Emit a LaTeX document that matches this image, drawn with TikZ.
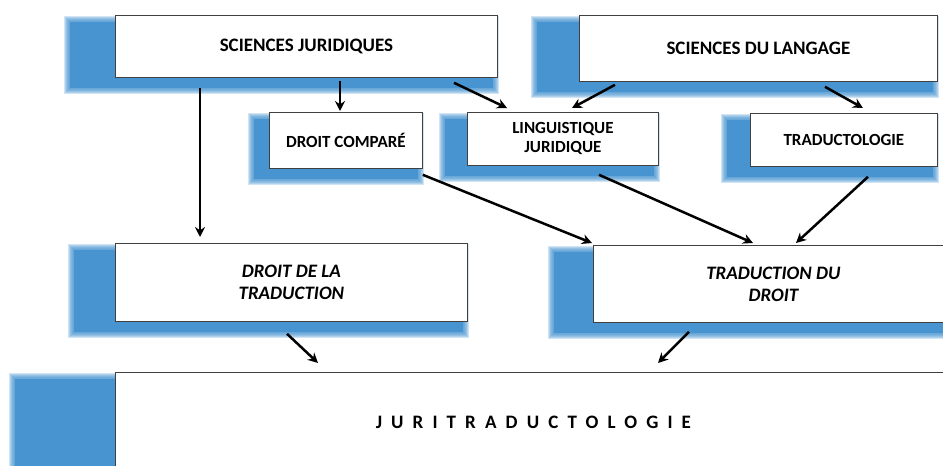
\documentclass[tikz,border=0pt]{standalone}
\usepackage{fontspec}
\setmainfont{Carlito}
\newfontfamily\espace[LetterSpace = 48]{Carlito}
\usetikzlibrary{arrows.meta, backgrounds, calc}

\definecolor{ombrebleu}{RGB}{72,148,208}
\definecolor{bord}{RGB}{64,64,64}

\tikzset{
  bloc/.style = {draw = bord, line width = 0.8pt, fill = white, rectangle,
    anchor = north west, inner sep = 0pt, align = center,
    font = \bfseries\fontsize{19}{23}\selectfont},
  moyen/.style = {font = \bfseries\fontsize{17}{19}\selectfont},
  penche/.style = {font = \bfseries\itshape\fontsize{19}{22}\selectfont},
  fleche/.style = {line width = 2.5pt, -{Stealth[length = 10pt, width = 10pt]}}
}

\begin{document}
\begin{tikzpicture}[x = 1pt, y = -1pt]
  \useasboundingbox (0, 0) rectangle (943, 466);

  \node[bloc, minimum width = 382pt, minimum height = 62pt] (sj) at (115, 15) {SCIENCES JURIDIQUES};
  \node[bloc, minimum width = 358pt, minimum height = 66pt] (sl) at (579, 15) {SCIENCES DU LANGAGE};
  \node[bloc, moyen, minimum width = 153pt, minimum height = 56pt] (dc) at (269, 112) {DROIT COMPARÉ};
  \node[bloc, moyen, minimum width = 191pt, minimum height = 53pt] (lj) at (467, 112) {LINGUISTIQUE\\JURIDIQUE};
  \node[bloc, moyen, minimum width = 187pt, minimum height = 53pt] (tr) at (750, 113) {TRADUCTOLOGIE};
  \node[bloc, penche, minimum width = 352pt, minimum height = 78pt] (dt) at (115, 243) {DROIT DE LA\\TRADUCTION};
  \node[bloc, penche, minimum width = 360pt, minimum height = 77pt] (td) at (593, 245) {TRADUCTION DU\\DROIT};
  \node[bloc, minimum width = 836pt, minimum height = 100pt] (jt) at (115, 372) {\espace JURITRADUCTOLOGIE};

  % ombres floues
  \begin{scope}[on background layer]
    \foreach \n/\d in {sj/47, sl/44, dc/17, lj/24, tr/25, dt/43, td/41, jt/102}{
      \foreach \g in {4, 3, ..., -1}{
        \fill[ombrebleu, opacity = 0.25] ($(\n.north west) + (-\d - \g, 5 - \g)$)
          rectangle ($(\n.south east) + (-3 + \g, 12 + \g)$);
      }
      \fill[ombrebleu] ($(\n.north west) + (-\d + 2, 7)$) rectangle ($(\n.south east) + (-5, 10)$);
    }
  \end{scope}

  \draw[fleche] ($(sj.south west) + (85, 10)$) -- ($(dt.north west) + (85, -6)$);
  \draw[fleche] ($(sj.south west) + (225, 3)$) -- ($(dc.north west) + (71, -1)$);
  \draw[fleche] ($(sj.south west) + (339, 5)$) -- ($(lj.north west) + (40, -4)$);
  \draw[fleche] ($(sl.south west) + (36, 3)$) -- ($(lj.north west) + (105, -4)$);
  \draw[fleche] ($(sl.south west) + (246, 5)$) -- ($(tr.north west) + (113, -5)$);
  \draw[fleche] ($(dc.south east) + (0, 6)$) -- ($(td.north west) + (-1, -2)$);
  \draw[fleche] ($(lj.south west) + (132, 9)$) -- ($(td.north west) + (160, -2)$);
  \draw[fleche] ($(tr.south west) + (118, 10)$) -- ($(td.north west) + (203, -2)$);
  \draw[fleche] ($(dt.south west) + (172, 12)$) -- ($(jt.north west) + (203, -9)$);
  \draw[fleche] ($(td.south west) + (96, 9)$) -- ($(jt.north west) + (543, -9)$);
\end{tikzpicture}
\end{document}
